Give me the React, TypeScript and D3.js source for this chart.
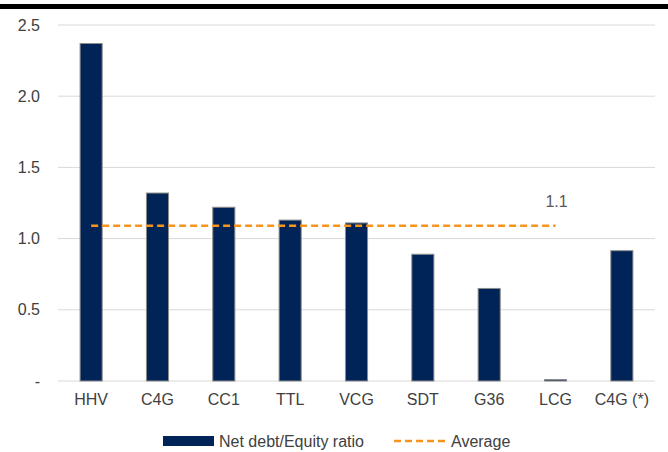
import * as d3 from "d3";

// --- chart data ---
const categories = ["HHV", "C4G", "CC1", "TTL", "VCG", "SDT", "G36", "LCG", "C4G (*)"];
const ratioValues = [2.37, 1.32, 1.22, 1.13, 1.11, 0.89, 0.65, 0.01, 0.915];
const averageValue = 1.09;
const averageLabel = "1.1";
const yTicks = [0, 0.5, 1.0, 1.5, 2.0, 2.5];
const legendLabels = ["Net debt/Equity ratio", "Average"];

const width = 668;
const height = 452;
const marginLeft = 58;
const marginRight = 13;
const marginTop = 25;
const marginBottom = 71;

const navy = "#002457";
const orange = "#F7941D";
const font = "'Liberation Sans', Arial, sans-serif";

export default function App() {
  const x = d3.scaleBand()
    .domain(categories)
    .range([marginLeft, width - marginRight])
    .paddingInner(0.667)
    .paddingOuter(0.333);

  const y = d3.scaleLinear()
    .domain([0, 2.5])
    .range([height - marginBottom, marginTop]);

  // average line runs from the first to the second-last category centre
  const avgStart = x(categories[0])! + x.bandwidth() / 2;
  const avgEnd = x(categories[categories.length - 2])! + x.bandwidth() / 2;

  return (
    <svg width={width} height={height} viewBox={`0 0 ${width} ${height}`}
      style={{ position: "absolute", left: 0, top: 0, fontFamily: font }}>
      <rect x={0} y={0} width={width} height={height} fill="#fff" />
      {/* top black rule */}
      <rect x={0} y={4} width={width} height={5} fill="#000" />

      {/* grid + y labels */}
      {yTicks.map(t => (
        <g key={t}>
          <line x1={marginLeft} x2={width - marginRight} y1={y(t)} y2={y(t)}
            stroke="#d9d9d9" strokeWidth={1} />
          <text x={40} y={y(t)} dy="0.35em" textAnchor="end" fontSize={16} fill="#404040">
            {t === 0 ? "-" : d3.format(".1f")(t)}
          </text>
        </g>
      ))}

      {/* bars */}
      {categories.map((c, i) => (
        <rect key={c} x={x(c)} y={y(ratioValues[i])}
          width={x.bandwidth()} height={y(0) - y(ratioValues[i])}
          fill={navy} stroke="#8c8c8c" strokeWidth={1} />
      ))}

      {/* x labels */}
      {categories.map(c => (
        <text key={c} x={x(c)! + x.bandwidth() / 2} y={y(0) + 24} textAnchor="middle"
          fontSize={16} fill="#404040">{c}</text>
      ))}

      {/* average line */}
      <line x1={avgStart} x2={avgEnd} y1={y(averageValue)} y2={y(averageValue)}
        stroke={orange} strokeWidth={2.5} strokeDasharray="7,4" />
      <text x={avgEnd + 1} y={y(averageValue) - 19} textAnchor="middle" fontSize={16} fill="#595959">
        {averageLabel}
      </text>

      {/* legend */}
      <g transform={`translate(0, ${height - 11})`}>
        <rect x={163} y={-5} width={51} height={10} fill={navy} />
        <text x={219} y={0} dy="0.35em" fontSize={16} fill="#404040">{legendLabels[0]}</text>
        <line x1={394} x2={446} y1={0} y2={0} stroke={orange} strokeWidth={2.5} strokeDasharray="7,4" />
        <text x={451} y={0} dy="0.35em" fontSize={16} fill="#404040">{legendLabels[1]}</text>
      </g>
    </svg>
  );
}
